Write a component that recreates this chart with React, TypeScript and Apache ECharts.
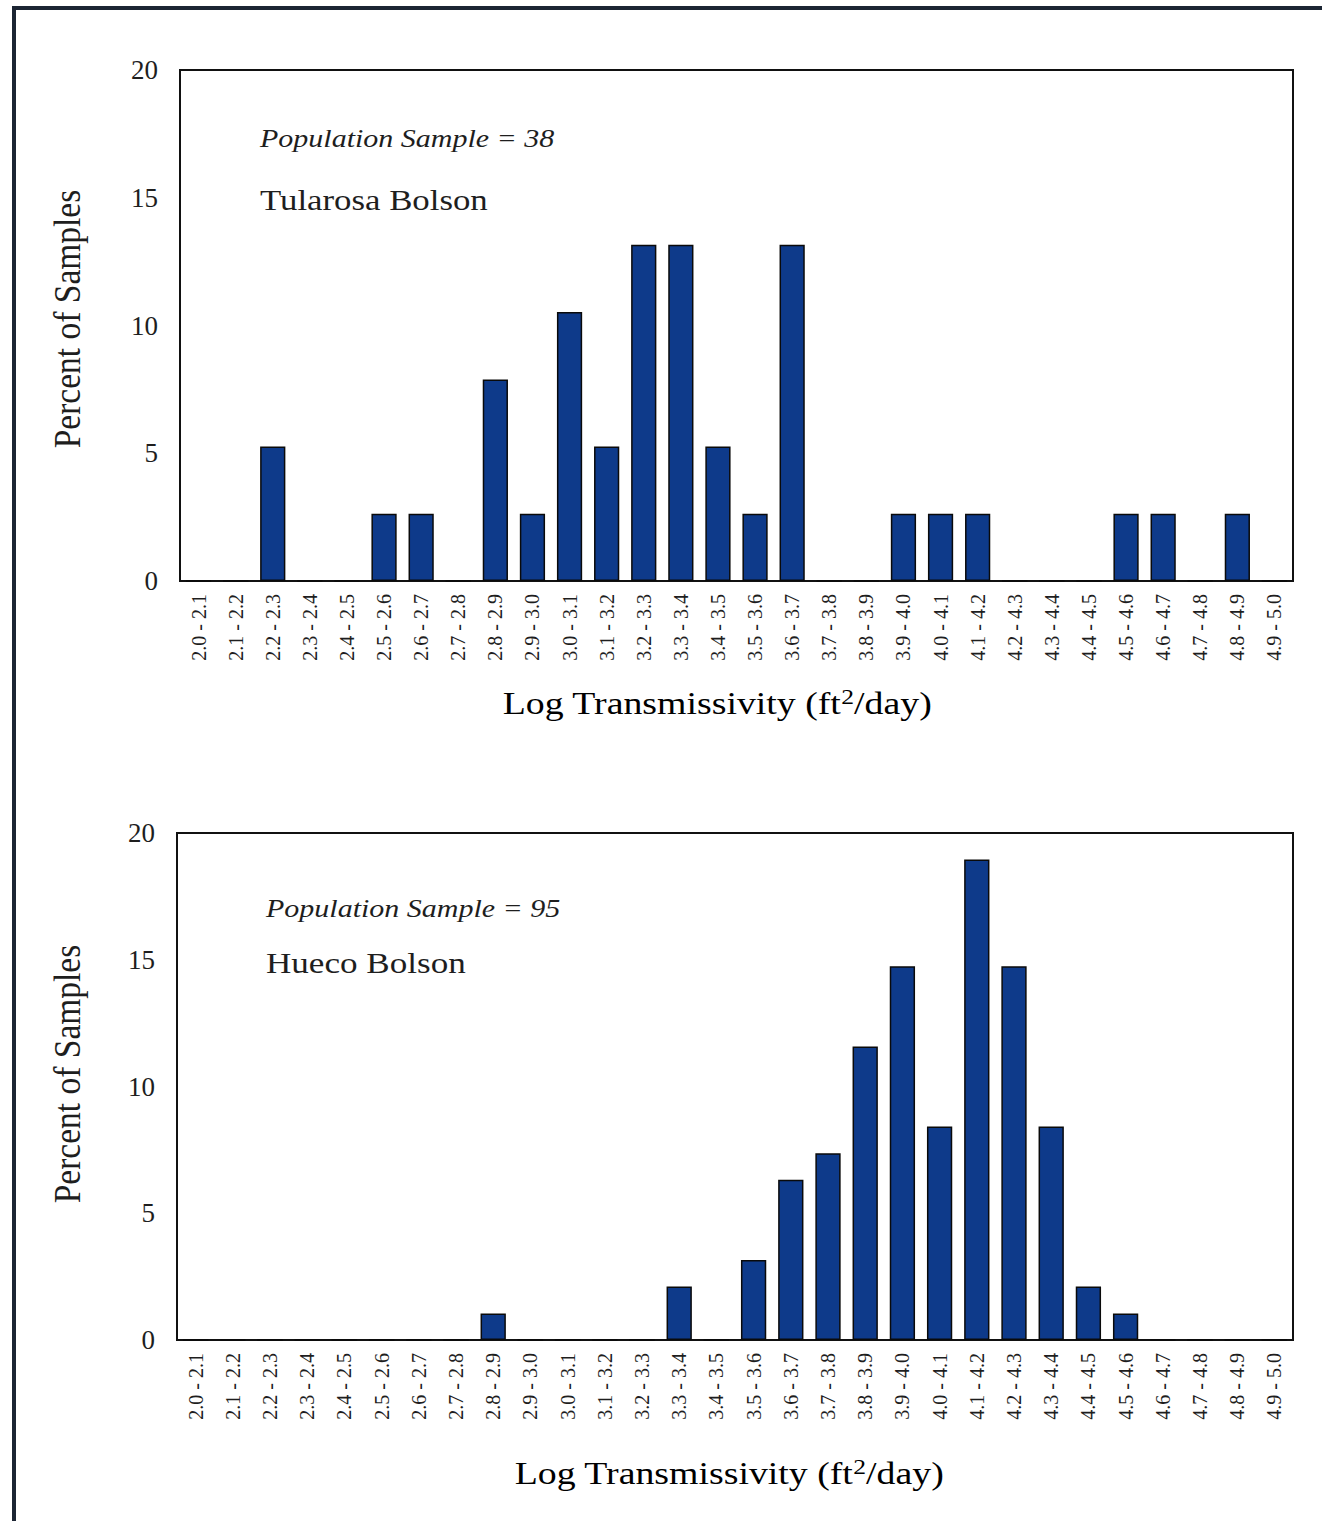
import React, { useEffect, useRef } from "react";
import * as echarts from "echarts";

const categories = [
  "2.0 - 2.1", "2.1 - 2.2", "2.2 - 2.3", "2.3 - 2.4", "2.4 - 2.5",
  "2.5 - 2.6", "2.6 - 2.7", "2.7 - 2.8", "2.8 - 2.9", "2.9 - 3.0",
  "3.0 - 3.1", "3.1 - 3.2", "3.2 - 3.3", "3.3 - 3.4", "3.4 - 3.5",
  "3.5 - 3.6", "3.6 - 3.7", "3.7 - 3.8", "3.8 - 3.9", "3.9 - 4.0",
  "4.0 - 4.1", "4.1 - 4.2", "4.2 - 4.3", "4.3 - 4.4", "4.4 - 4.5",
  "4.5 - 4.6", "4.6 - 4.7", "4.7 - 4.8", "4.8 - 4.9", "4.9 - 5.0",
];

// Percent of samples, Tularosa Bolson (n = 38)
const tularosaPercent = [
  0, 0, 5.26, 0, 0,
  2.63, 2.63, 0, 7.89, 2.63,
  10.53, 5.26, 13.16, 13.16, 5.26,
  2.63, 13.16, 0, 0, 2.63,
  2.63, 2.63, 0, 0, 0,
  2.63, 2.63, 0, 2.63, 0,
];

// Percent of samples, Hueco Bolson (n = 95)
const huecoPercent = [
  0, 0, 0, 0, 0,
  0, 0, 0, 1.05, 0,
  0, 0, 0, 2.11, 0,
  3.16, 6.32, 7.37, 11.58, 14.74,
  8.42, 18.95, 14.74, 8.42, 2.11,
  1.05, 0, 0, 0, 0,
];

const yTicks = { min: 0, max: 20, interval: 5 };

const FONT = "'Liberation Serif', 'Times New Roman', serif";
const TEXT = "#1e1e1e";
const BAR = "#0e3a8a";

export default function App() {
  const ref = useRef<HTMLDivElement>(null);

  useEffect(() => {
    if (!ref.current) return;
    const chart = echarts.init(ref.current, undefined, { renderer: "svg" });

    const grids = [
      { left: 180, top: 70, width: 1113, height: 511 },
      { left: 177, top: 833, width: 1116, height: 507 },
    ];

    const xAxis = grids.map((_, i) => ({
      type: "category" as const,
      gridIndex: i,
      data: categories,
      axisLine: { show: true, lineStyle: { color: "#111", width: 2 } },
      axisTick: { show: false },
      axisLabel: {
        rotate: 90,
        interval: 0,
        margin: 13,
        fontFamily: FONT,
        fontSize: 20,
        color: TEXT,
      },
    }));

    const yAxis = grids.map((_, i) => ({
      type: "value" as const,
      gridIndex: i,
      min: yTicks.min,
      max: yTicks.max,
      interval: yTicks.interval,
      axisLine: { show: true, lineStyle: { color: "#111", width: 2 } },
      axisTick: { show: false },
      splitLine: { show: false },
      axisLabel: {
        margin: 22,
        fontFamily: FONT,
        fontSize: 27,
        color: TEXT,
      },
    }));

    const barSeries = (data: number[], idx: number) => ({
      type: "bar" as const,
      xAxisIndex: idx,
      yAxisIndex: idx,
      data,
      barCategoryGap: "32%",
      itemStyle: { color: BAR, borderColor: "#0a0a0a", borderWidth: 1.5 },
    });

    const xName = (x: number, y: number) => ({
      type: "text",
      x,
      y,
      scaleX: 1.22,
      style: {
        text: "{a|Log Transmissivity (ft}{s|2}{a|/day)}",
        align: "center",
        verticalAlign: "middle",
        rich: {
          a: { fontFamily: FONT, fontSize: 31, color: TEXT, lineHeight: 34 },
          s: { fontFamily: FONT, fontSize: 21, color: TEXT, lineHeight: 34, verticalAlign: "top" },
        },
      },
    });

    const yName = (x: number, y: number) => ({
      type: "text",
      x,
      y,
      rotation: Math.PI / 2,
      scaleY: 1.1,
      style: {
        text: "Percent of Samples",
        align: "center",
        verticalAlign: "middle",
        fontFamily: FONT,
        fontSize: 33.5,
        fill: TEXT,
      },
    });

    const label = (x: number, y: number, text: string, size: number, italic: boolean, sx: number) => ({
      type: "text",
      x,
      y,
      scaleX: sx,
      style: {
        text,
        align: "left",
        verticalAlign: "middle",
        fontFamily: FONT,
        fontSize: size,
        fontStyle: italic ? "italic" : "normal",
        fill: TEXT,
      },
    });

    chart.setOption({
      animation: false,
      backgroundColor: "#ffffff",
      grid: grids.map((g) => ({
        ...g,
        show: true,
        borderColor: "#111",
        borderWidth: 2,
        backgroundColor: "transparent",
        containLabel: false,
      })),
      xAxis,
      yAxis,
      series: [barSeries(tularosaPercent, 0), barSeries(huecoPercent, 1)],
      graphic: [
        { type: "line", shape: { x1: 12, y1: 8, x2: 1322, y2: 8 }, style: { stroke: "#1c2533", lineWidth: 4 } },
        { type: "line", shape: { x1: 14, y1: 6, x2: 14, y2: 1521 }, style: { stroke: "#1c2533", lineWidth: 4 } },
        yName(68, 319),
        yName(68, 1074),
        xName(717, 703),
        xName(729, 1473),
        label(260, 138, "Population Sample = 38", 25, true, 1.2),
        label(260, 200, "Tularosa Bolson", 30, false, 1.16),
        label(266, 908, "Population Sample = 95", 25, true, 1.2),
        label(266, 963, "Hueco Bolson", 30, false, 1.17),
      ],
    });

    return () => chart.dispose();
  }, []);

  return (
    <div
      ref={ref}
      style={{ position: "absolute", left: 0, top: 0, width: 1322, height: 1521 }}
    />
  );
}
